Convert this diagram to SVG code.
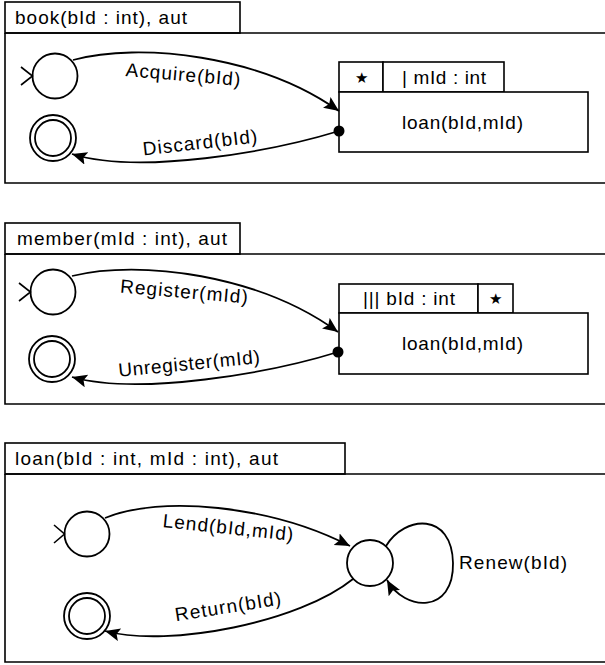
<svg xmlns="http://www.w3.org/2000/svg" width="605" height="665" viewBox="0 0 605 665">
<defs>
<marker id="arr" markerUnits="userSpaceOnUse" markerWidth="18" markerHeight="16" refX="15" refY="6.5" orient="auto">
<path d="M0,0 L15,6.5 L0,13 L3,6.5 z" fill="#000"/>
</marker>
</defs>
<style>
.box{fill:#fff;stroke:#000;stroke-width:1.6}
.st{fill:#fff;stroke:#000;stroke-width:1.8}
.ln{fill:none;stroke:#000;stroke-width:1.6}
.edge{fill:none;stroke:#000;stroke-width:1.8;marker-end:url(#arr)}
text{font-family:"Liberation Sans",Arial,sans-serif;font-size:19px;fill:#000}
.c{text-anchor:middle}
</style>
<rect width="605" height="665" fill="#fff"/>

<!-- Panel 1 -->
<g id="book">
<rect class="box" x="5" y="2" width="235" height="31"/>
<path class="ln" d="M5,33 H610 M5,33 V183 H610"/>
<text x="15" y="24" textLength="172" lengthAdjust="spacing">book(bId : int), aut</text>
</g>
<g id="book-init">
<circle class="st" cx="55" cy="76" r="22.5"/>
<path class="ln" d="M21,67 L32.5,76 L21,85"/>
</g>
<g id="book-final">
<circle class="st" cx="53" cy="138" r="23"/>
<circle class="st" cx="53" cy="138" r="18"/>
</g>
<g id="book-loan">
<rect class="box" x="339" y="62" width="44" height="30"/>
<rect class="box" x="383" y="62" width="121" height="30"/>
<rect class="box" x="339" y="92" width="249" height="60"/>
<text class="c" x="361" y="83" style="font-size:15px">★</text>
<text x="402" y="84" textLength="84" lengthAdjust="spacing">| mId : int</text>
<text x="402" y="129" textLength="121" lengthAdjust="spacing">loan(bId,mId)</text>
</g>

<!-- Panel 2 -->
<g id="member">
<rect class="box" x="5" y="223" width="235" height="31"/>
<path class="ln" d="M5,254 H610 M5,254 V404 H610"/>
<text x="17" y="245" textLength="210" lengthAdjust="spacing">member(mId : int), aut</text>
</g>
<g id="member-init">
<circle class="st" cx="53" cy="292" r="22.5"/>
<path class="ln" d="M19,283 L30.5,292 L19,301"/>
</g>
<g id="member-final">
<circle class="st" cx="52" cy="359" r="23"/>
<circle class="st" cx="52" cy="359" r="18"/>
</g>
<g id="member-loan">
<rect class="box" x="339" y="284" width="139" height="29"/>
<rect class="box" x="478" y="284" width="35" height="29"/>
<rect class="box" x="339" y="313" width="249" height="61"/>
<text x="363" y="305" textLength="92" lengthAdjust="spacing">||| bId : int</text>
<text class="c" x="495" y="304" style="font-size:15px">★</text>
<text x="402" y="350" textLength="121" lengthAdjust="spacing">loan(bId,mId)</text>
</g>

<!-- Panel 3 -->
<g id="loan">
<rect class="box" x="5" y="443" width="340" height="31"/>
<path class="ln" d="M5,474 H610 M5,474 V662 H610"/>
<text x="15" y="465" textLength="263" lengthAdjust="spacing">loan(bId : int, mId : int), aut</text>
</g>
<g id="loan-init">
<circle class="st" cx="87" cy="534" r="22.5"/>
<path class="ln" d="M54,525 L64.5,534 L54,543"/>
</g>
<g id="loan-final">
<circle class="st" cx="87" cy="616" r="23"/>
<circle class="st" cx="87" cy="616" r="18"/>
</g>
<g id="loan-state">
<circle class="st" cx="370" cy="563" r="23"/>
</g>

<g id="connectors">
<path class="edge" d="M73,60 C140,42 260,55 339,111"/>
<path class="edge" d="M339,131 C270,152 140,175 72,154"/>
<circle cx="339" cy="131" r="5.5" fill="#000"/>
<path class="edge" d="M72,276 C140,259 260,275 338,332"/>
<path class="edge" d="M338,352 C270,373 140,396 72,377"/>
<circle cx="338" cy="352" r="5.5" fill="#000"/>
<path class="edge" d="M105,518 C160,495 270,505 350,546"/>
<path class="edge" d="M353,579 C300,622 170,648 105,631"/>
<path class="edge" d="M386,546 C405,515 452,512 453,563 C454,614 405,612 387,580"/>
<text class="c" transform="translate(183,75) rotate(5)" y="6" textLength="115" lengthAdjust="spacing">Acquire(bId)</text>
<text class="c" transform="translate(200,143) rotate(-6.5)" y="6" textLength="115" lengthAdjust="spacing">Discard(bId)</text>
<text class="c" transform="translate(184,292) rotate(5)" y="6" textLength="128" lengthAdjust="spacing">Register(mId)</text>
<text class="c" transform="translate(189,364) rotate(-5.5)" y="6" textLength="142" lengthAdjust="spacing">Unregister(mId)</text>
<text class="c" transform="translate(228,528) rotate(6)" y="6" textLength="131" lengthAdjust="spacing">Lend(bId,mId)</text>
<text class="c" transform="translate(228,607) rotate(-9)" y="6" textLength="107" lengthAdjust="spacing">Return(bId)</text>
<text x="459" y="569" textLength="108" lengthAdjust="spacing">Renew(bId)</text>
</g>
</svg>
